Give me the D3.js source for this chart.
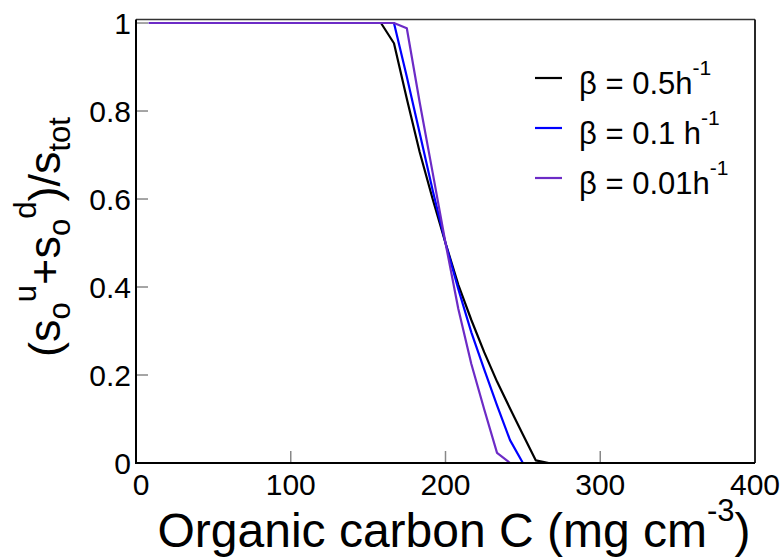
<!DOCTYPE html>
<html>
<head>
<meta charset="utf-8">
<script src="https://cdn.jsdelivr.net/npm/d3@7"></script>
<style>
  body { margin: 0; background: #fff; }
  svg { display: block; font-family: 'Liberation Sans', Arial, sans-serif; }
</style>
</head>
<body>
<svg width="783" height="557"></svg>
<script>
var xTicks = [0, 100, 200, 300, 400]
var yTicks = [0, 0.2, 0.4, 0.6, 0.8, 1]

var betaLabels = ['0.5h', '0.1 h', '0.01h']
var betaColors = ['#000000', '#0000ff', '#6c2bc6']

var carbon05 = [8.3, 158.3, 166.7, 175, 183.3, 191.7, 200, 208.3, 216.7, 225, 233.3, 241.7, 250, 258.3, 266.7, 400]
var share05 = [1, 1, 0.954, 0.828, 0.707, 0.6, 0.5, 0.405, 0.325, 0.252, 0.185, 0.124, 0.065, 0.006, 0, 0]

var carbon01 = [8.3, 166.7, 175, 183.3, 191.7, 200, 208.3, 216.7, 225, 233.3, 241.7, 250, 400]
var share01 = [1, 1, 0.878, 0.75, 0.62, 0.5, 0.395, 0.297, 0.213, 0.131, 0.052, 0, 0]

var carbon001 = [8.3, 166.7, 175, 183.3, 191.7, 200, 208.3, 216.7, 225, 233.3, 241.7, 400]
var share001 = [1, 1, 0.988, 0.82, 0.66, 0.5, 0.35, 0.225, 0.122, 0.023, 0, 0]

var chart = () => {
  var svg = d3.select('svg')
  var left = 136, right = 755, top = 19.5, bottom = 463

  var x = d3.scaleLinear().domain([0, 400]).range([left, right])
  var y = d3.scaleLinear().domain([0, 1.008]).range([bottom, top])

  var series = [
    {x: carbon05, y: share05},
    {x: carbon01, y: share01},
    {x: carbon001, y: share001}
  ]

  // inner ticks, grey like matlab
  svg.append('g').selectAll('line').data(xTicks.slice(1, -1)).enter().append('line')
    .attr('x1', d => x(d)).attr('x2', d => x(d))
    .attr('y1', bottom).attr('y2', bottom - 12)
    .attr('stroke', '#888').attr('stroke-width', 1.5)

  svg.append('g').selectAll('line').data(yTicks.slice(1)).enter().append('line')
    .attr('x1', left).attr('x2', left + 12)
    .attr('y1', d => y(d)).attr('y2', d => y(d))
    .attr('stroke', '#888').attr('stroke-width', 1.5)

  var line = d3.line()
    .x(d => x(d[0]))
    .y(d => y(d[1]))

  svg.append('g').selectAll('path').data(series).enter().append('path')
    .attr('d', s => line(s.x.map((v, i) => [v, s.y[i]])))
    .attr('fill', 'none')
    .attr('stroke', (s, i) => betaColors[i])
    .attr('stroke-width', 2.2)
    .attr('stroke-linejoin', 'round')

  // frame
  svg.append('line').attr('x1', left).attr('x2', right).attr('y1', top).attr('y2', top)
    .attr('stroke', '#333').attr('stroke-width', 1.5)
  svg.append('line').attr('x1', right).attr('x2', right).attr('y1', top).attr('y2', bottom)
    .attr('stroke', '#111').attr('stroke-width', 1.8)
  svg.append('line').attr('x1', left).attr('x2', left).attr('y1', top).attr('y2', bottom + 1)
    .attr('stroke', '#000').attr('stroke-width', 2)
  svg.append('line').attr('x1', left - 1).attr('x2', right).attr('y1', bottom).attr('y2', bottom)
    .attr('stroke', '#000').attr('stroke-width', 2.2)

  var tickFont = 30

  // first x label nudged right so the two zeros do not collide
  svg.append('g').selectAll('text').data(xTicks).enter().append('text')
    .attr('x', (d, i) => x(d) + (i === 0 ? 5 : 0)).attr('y', bottom + 32)
    .attr('text-anchor', 'middle')
    .attr('font-size', tickFont)
    .text(d => d)

  svg.append('g').selectAll('text').data(yTicks).enter().append('text')
    .attr('x', left - 5).attr('y', d => y(d) + 11)
    .attr('text-anchor', 'end')
    .attr('font-size', tickFont)
    .text(d => d)

  var xl = svg.append('text')
    .attr('x', 454).attr('y', 547)
    .attr('text-anchor', 'middle')
    .attr('font-size', 48)
  xl.append('tspan').text('Organic carbon C (mg cm')
  xl.append('tspan').attr('dy', -26).attr('font-size', 31).text('-3')
  xl.append('tspan').attr('dy', 26).text(')')

  var yl = svg.append('text')
    .attr('transform', 'translate(60, 237) rotate(-90)')
    .attr('text-anchor', 'middle')
    .attr('font-size', 45)
  var parts = [
    ['(s', 0, 45], ['o', 10, 31], ['u', -34, 31], ['+s', 24, 45], ['o', 10, 31],
    ['d', -34, 31], [')/s', 24, 45], ['tot', 10, 31]
  ]
  parts.forEach(p => {
    yl.append('tspan').attr('dy', p[1]).attr('font-size', p[2]).text(p[0])
  })

  var legend = svg.append('g').selectAll('g').data(betaLabels).enter().append('g')
    .attr('transform', (d, i) => `translate(0, ${78 + i * 50})`)

  legend.append('line')
    .attr('x1', 535).attr('x2', 562)
    .attr('stroke', (d, i) => betaColors[i])
    .attr('stroke-width', 2.2)

  var lt = legend.append('text')
    .attr('x', 579).attr('y', 16)
    .attr('font-size', 31)
  lt.append('tspan').text(d => '\u03b2 = ' + d)
  lt.append('tspan').attr('dy', -19).attr('font-size', 21).text('-1')
}

chart()
</script>
</body>
</html>
